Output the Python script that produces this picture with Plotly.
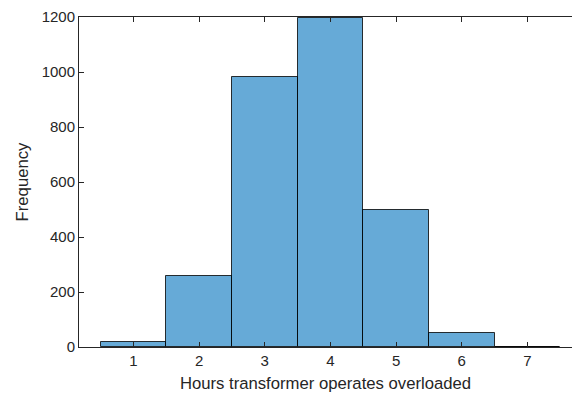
import plotly.graph_objects as go

hours = [1, 2, 3, 4, 5, 6, 7]
counts = [19, 257, 982, 1195, 499, 51, 1]
y_ticks = [0, 200, 400, 600, 800, 1000, 1200]
x_ticks = [1, 2, 3, 4, 5, 6, 7]

fig = go.Figure()
fig.add_trace(go.Bar(
    x=hours, y=counts, width=1,
    marker=dict(color="rgba(0,114,189,0.6)", line=dict(color="rgba(0,0,0,0.8)", width=1)),
))

axis_font = dict(family="Liberation Sans, Arial, sans-serif", size=15, color="#262626")
fig.update_layout(
    width=572, height=394,
    margin=dict(l=79, r=0, t=17, b=47),
    paper_bgcolor="white", plot_bgcolor="white",
    showlegend=False, bargap=0,
    font=axis_font,
    xaxis=dict(
        range=[0.17, 7.68], tickvals=x_ticks, ticktext=[str(v) for v in x_ticks],
        ticks="inside", ticklen=5, tickcolor="#262626", tickwidth=1,
        showline=True, linecolor="#262626", linewidth=1, mirror="ticks",
        showgrid=False, zeroline=False,
        title=dict(text="Hours transformer operates overloaded", font=dict(size=16.7), standoff=9),
    ),
    yaxis=dict(
        range=[0, 1200], tickvals=y_ticks, ticktext=[str(v) for v in y_ticks],
        ticks="inside", ticklen=5, tickcolor="#262626", tickwidth=1,
        showline=True, linecolor="#262626", linewidth=1,
        showgrid=False, zeroline=False,
        title=dict(text="Frequency", font=dict(size=16.7), standoff=8),
    ),
)
fig.write_html("out.html")
